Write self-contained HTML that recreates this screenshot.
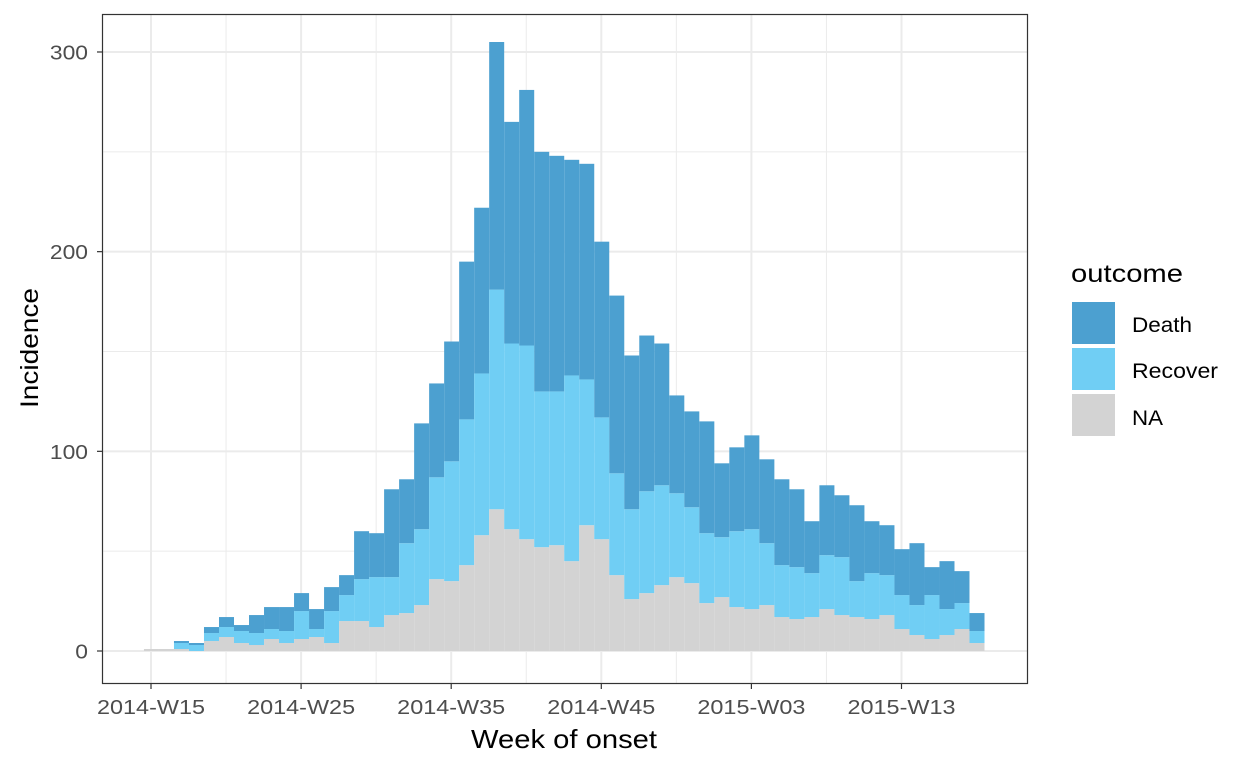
<!DOCTYPE html>
<html><head><meta charset="utf-8"><style>
body{margin:0;background:#fff;font-family:"Liberation Sans",Arial,sans-serif;}
svg text{font-family:"Liberation Sans",Arial,sans-serif;}
</style></head><body>
<svg id="chart" width="1248" height="768" xmlns="http://www.w3.org/2000/svg">
<rect width="1248" height="768" fill="#fff"/>
<g id="grid"></g>
<g id="bars"></g>
<rect x="102.5" y="14.5" width="925" height="669" fill="none" stroke="#333" stroke-width="1.2"/>
<g id="axes"></g>
<text x="471" y="748" font-size="26" textLength="186" lengthAdjust="spacingAndGlyphs" fill="#000">Week of onset</text>
<text transform="translate(38,408) rotate(-90)" font-size="25" textLength="120" lengthAdjust="spacingAndGlyphs" fill="#000">Incidence</text>
<g>
<text x="1071" y="282" font-size="25" textLength="112" lengthAdjust="spacingAndGlyphs" fill="#000">outcome</text>
<rect x="1072" y="302" width="43" height="42" fill="#4ca0d0"/>
<text x="1132" y="332" font-size="21" textLength="60" lengthAdjust="spacingAndGlyphs" fill="#000">Death</text>
<rect x="1072" y="348" width="43" height="42" fill="#70cef4"/>
<text x="1132" y="378" font-size="21" textLength="86" lengthAdjust="spacingAndGlyphs" fill="#000">Recover</text>
<rect x="1072" y="394" width="43" height="42" fill="#d3d3d3"/>
<text x="1132" y="425" font-size="21" textLength="31" lengthAdjust="spacingAndGlyphs" fill="#000">NA</text>
</g>
</svg>
<script>
const naCounts = [1,1,1,0,5,7,4,3,6,4,6,7,4,15,15,12,18,19,23,36,35,43,58,71,61,56,52,53,45,63,56,38,26,29,33,37,34,24,27,22,21,23,17,16,17,21,18,17,16,18,11,8,6,8,11,4];
const recoverCounts = [0,0,3,3,4,5,6,6,5,6,14,4,16,13,21,25,19,35,38,51,60,73,81,110,93,97,78,77,93,73,61,51,45,51,50,42,38,35,30,38,40,31,26,26,22,27,29,18,23,20,17,15,22,13,13,6];
const deathCounts = [0,0,1,1,3,5,3,9,11,12,9,10,12,10,24,22,44,32,53,47,60,79,83,124,111,128,120,118,108,108,88,89,77,78,71,49,48,56,37,42,47,42,43,39,26,35,31,38,26,25,23,31,14,24,16,9];
const xTickLabels = ["2014-W15","2014-W25","2014-W35","2014-W45","2015-W03","2015-W13"];
const xTickWeeks = [0,10,20,30,40,50];
const yTicks = [0,100,200,300];
const yMinor = [50,150,250];

const NS="http://www.w3.org/2000/svg";
const xScale = w => 151 + 15.01*w;
const yScale = v => 651 - 1.9967*v;
function mk(tag, attrs, parent){const e=document.createElementNS(NS,tag);for(const k in attrs)e.setAttribute(k,attrs[k]);parent.appendChild(e);return e;}
const grid=document.getElementById('grid'), bars=document.getElementById('bars'), axes=document.getElementById('axes');
yMinor.forEach(v=>{const l=mk('line',{x1:103,x2:1027,y1:yScale(v),y2:yScale(v),stroke:'#ebebeb','stroke-width':1},grid);

});
[5,15,25,35,45].forEach(w=>{const l=mk('line',{x1:xScale(w),x2:xScale(w),y1:15,y2:683,stroke:'#ebebeb','stroke-width':1},grid);

});
yTicks.forEach(v=>{const l=mk('line',{x1:103,x2:1027,y1:yScale(v),y2:yScale(v),stroke:'#ebebeb','stroke-width':2},grid);


const t=mk('line',{x1:97,x2:103,y1:yScale(v),y2:yScale(v),stroke:'#333','stroke-width':1.2},axes);


const s=String(v);
const tx=mk('text',{x:88-12.7*s.length,y:yScale(v)+7.5,'font-size':20,textLength:12.7*s.length,lengthAdjust:'spacingAndGlyphs',fill:'#4d4d4d'},axes);tx.textContent=s;

});
xTickWeeks.forEach((w,i)=>{const l=mk('line',{x1:xScale(w),x2:xScale(w),y1:15,y2:683,stroke:'#ebebeb','stroke-width':2},grid);


const t=mk('line',{x1:xScale(w),x2:xScale(w),y1:683,y2:689,stroke:'#333','stroke-width':1.2},axes);


const tx=mk('text',{x:xScale(w)-54,y:714,'font-size':20,textLength:108,lengthAdjust:'spacingAndGlyphs',fill:'#4d4d4d'},axes);tx.textContent=xTickLabels[i];

});
const series=[[naCounts,'#d3d3d3','bar-na'],[recoverCounts,'#70cef4','bar-recover'],[deathCounts,'#4ca0d0','bar-death']];
naCounts.forEach((_,i)=>{let base=0;const x0=xScale(i-0.47),x1=xScale(i+0.53);
series.forEach(([arr,col,name])=>{const v=arr[i];if(v>0){const r=mk('rect',{x:x0,width:x1-x0,y:yScale(base+v),height:yScale(base)-yScale(base+v),fill:col},bars);

}base+=v;});});
</script>
</body></html>
